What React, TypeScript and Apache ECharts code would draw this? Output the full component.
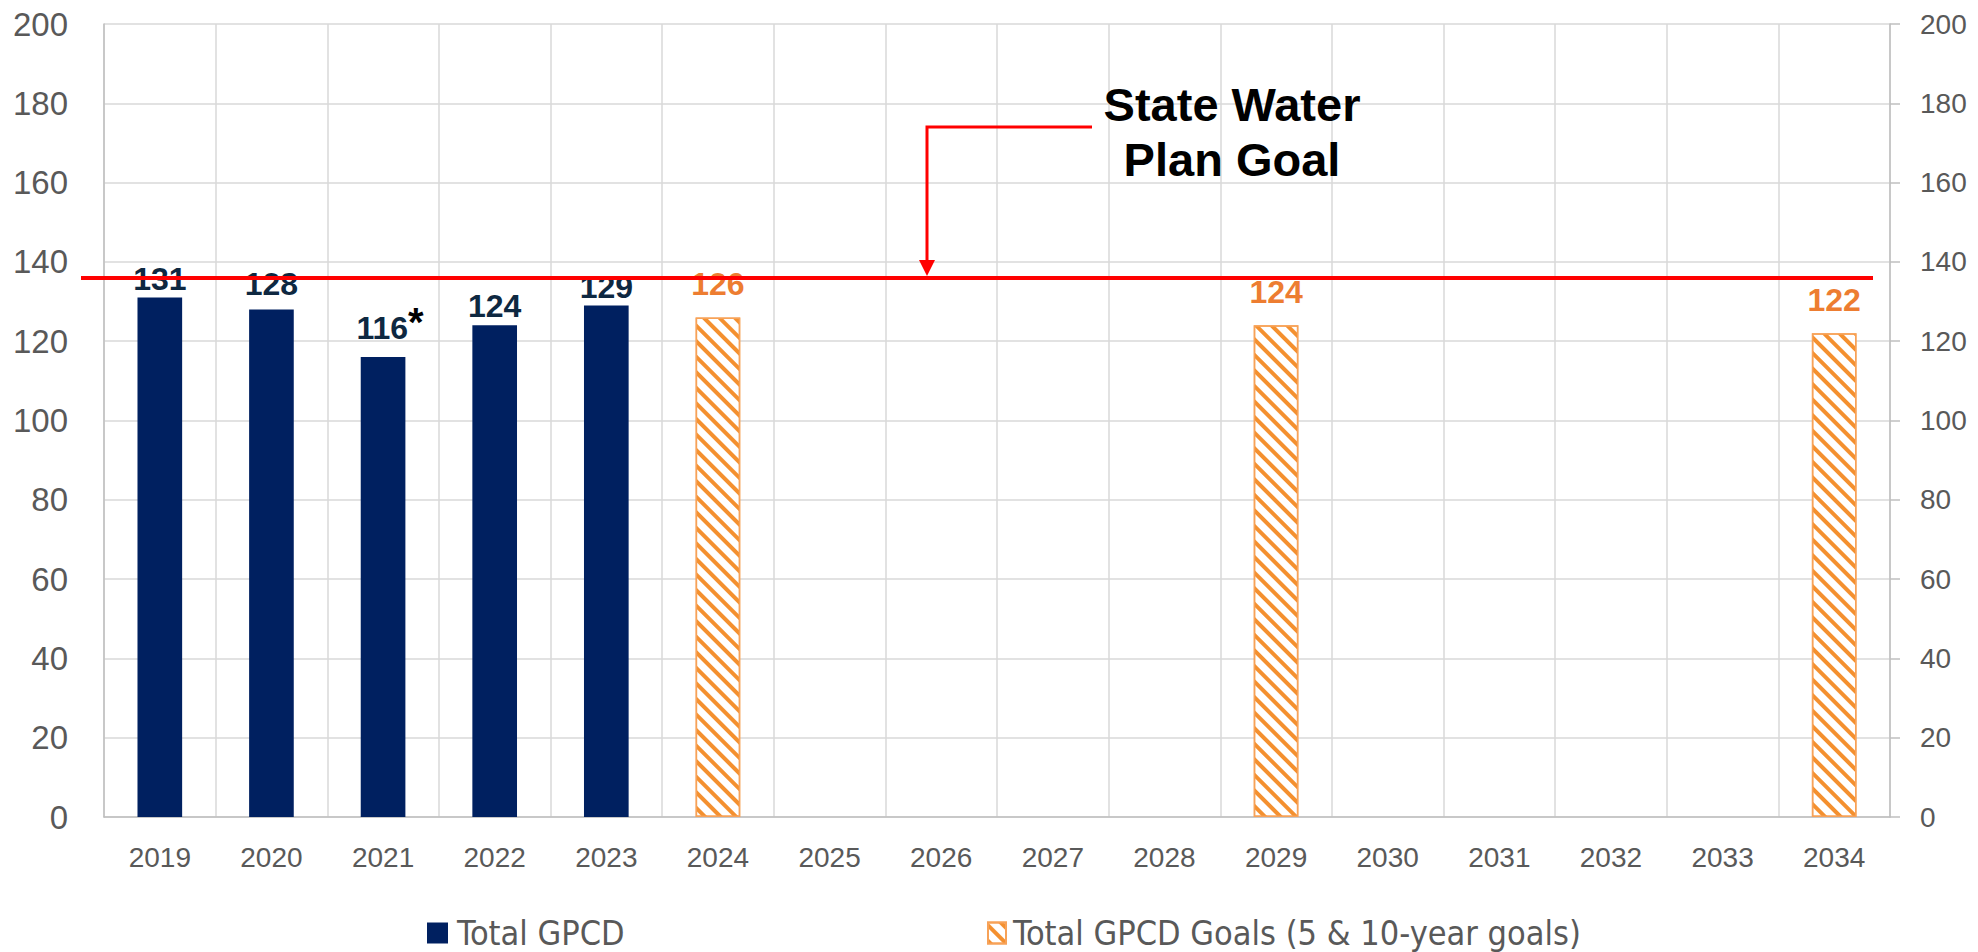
import React, { useEffect, useRef } from 'react';
import * as echarts from 'echarts';

const years = ['2019', '2020', '2021', '2022', '2023', '2024', '2025', '2026', '2027', '2028', '2029', '2030', '2031', '2032', '2033', '2034'];
const totalGpcd = [131, 128, 116, 124, 129, null, null, null, null, null, null, null, null, null, null, null];
const gpcdGoals = [null, null, null, null, null, 126, null, null, null, null, 124, null, null, null, null, 122];
const footnoteYears = ['2021'];
const stateWaterPlanGoal = 136;
const yMin = 0;
const yMax = 200;
const yInterval = 20;

const FONT = '"Liberation Sans", Arial, sans-serif';
const NARROW = '"Liberation Sans Narrow", "DejaVu Sans Condensed", "Liberation Sans", sans-serif';
const NAVY = '#002060';
const NAVY_TEXT = '#0E2841';
const ORANGE = '#F4902F';
const ORANGE_TEXT = '#ED7D31';
const GRAY_TEXT = '#595959';

export default function App() {
  const ref = useRef<HTMLDivElement>(null);

  useEffect(() => {
    if (!ref.current) return;
    const chart = echarts.init(ref.current, null, { renderer: 'svg' });

    const navyData = totalGpcd.map((v, i) => {
      if (footnoteYears.includes(years[i])) {
        return { value: v, label: { formatter: '{v|' + v + '}{s|*}', offset: [7, 0] } };
      }
      if (years[i] === '2020') {
        return { value: v, label: { offset: [0, -6] } };
      }
      return v;
    });

    const yAxisBase = {
      type: 'value' as const,
      min: yMin,
      max: yMax,
      interval: yInterval,
    };

    chart.setOption({
      animation: false,
      backgroundColor: '#ffffff',
      grid: { left: 104, right: 88, top: 24, bottom: 135, containLabel: false },
      legend: [
        {
          data: ['Total GPCD'],
          left: 422,
          top: 911,
          itemWidth: 21,
          itemHeight: 21,
          icon: 'rect',
          textStyle: { color: GRAY_TEXT, fontSize: 34, fontFamily: NARROW, padding: [0, 0, 0, 4] },
          selectedMode: false,
        },
        {
          data: ['Total GPCD Goals (5 & 10-year goals)'],
          left: 982,
          top: 911,
          itemWidth: 18,
          itemHeight: 21,
          icon: 'rect',
          textStyle: { color: GRAY_TEXT, fontSize: 34, fontFamily: NARROW, padding: [0, 0, 0, 2] },
          selectedMode: false,
        },
      ],
      xAxis: {
        type: 'category',
        data: years,
        axisLine: { show: true, lineStyle: { color: '#BFBFBF', width: 1.5 } },
        axisTick: { show: false },
        splitLine: { show: true, interval: 0, lineStyle: { color: '#D9D9D9', width: 1.5 } },
        axisLabel: { color: GRAY_TEXT, fontSize: 28, fontFamily: FONT, margin: 26, interval: 0 },
      },
      yAxis: [
        {
          ...yAxisBase,
          position: 'left',
          axisLine: { show: true, lineStyle: { color: '#BFBFBF', width: 1.5 } },
          axisTick: { show: false },
          splitLine: { show: true, lineStyle: { color: '#D9D9D9', width: 1.5 } },
          axisLabel: { color: GRAY_TEXT, fontSize: 33, fontFamily: FONT, margin: 36 },
        },
        {
          ...yAxisBase,
          position: 'right',
          axisLine: { show: true, lineStyle: { color: '#BFBFBF', width: 1.5 } },
          axisTick: { show: true, length: 10, lineStyle: { color: '#BFBFBF', width: 1.5 } },
          splitLine: { show: false },
          axisLabel: { color: GRAY_TEXT, fontSize: 28, fontFamily: FONT, margin: 30 },
        },
      ],
      series: [
        {
          name: 'Total GPCD',
          type: 'bar',
          data: navyData,
          barWidth: '40%',
          barGap: '-100%',
          itemStyle: { color: NAVY },
          label: {
            show: true,
            position: 'top',
            distance: 3,
            color: NAVY_TEXT,
            fontSize: 32,
            fontWeight: 'bold',
            fontFamily: FONT,
            rich: {
              v: { color: NAVY_TEXT, fontSize: 32, fontWeight: 'bold', fontFamily: FONT },
              s: { color: '#000000', fontSize: 40, fontWeight: 'bold', fontFamily: FONT, padding: [0, 0, 12, 0] },
            },
          },
          markLine: {
            silent: true,
            symbol: ['none', 'none'],
            label: { show: false },
            lineStyle: { color: '#FF0000', width: 4, type: 'solid' },
            data: [[{ x: 81, yAxis: stateWaterPlanGoal }, { x: 1873, yAxis: stateWaterPlanGoal }]],
          },
        },
        {
          name: 'Total GPCD Goals (5 & 10-year goals)',
          type: 'bar',
          data: gpcdGoals,
          barWidth: '40%',
          barGap: '-100%',
          itemStyle: {
            color: '#FFFFFF',
            borderColor: '#F7A258',
            borderWidth: 1.5,
            decal: {
              symbol: 'rect',
              symbolSize: 1,
              color: ORANGE,
              dashArrayX: [1, 0],
              dashArrayY: [4, 7],
              rotation: Math.PI / 4,
            },
          },
          label: {
            show: true,
            position: 'top',
            distance: 17,
            color: ORANGE_TEXT,
            fontSize: 32,
            fontWeight: 'bold',
            fontFamily: FONT,
          },
        },
      ],
      graphic: [
        {
          type: 'polyline',
          silent: true,
          shape: { points: [[1092, 127], [927, 127], [927, 262]] },
          style: { stroke: '#FF0000', lineWidth: 3, fill: null },
          z: 100,
        },
        {
          type: 'polygon',
          silent: true,
          shape: { points: [[919, 260], [935, 260], [927, 276]] },
          style: { fill: '#FF0000' },
          z: 100,
        },
        {
          type: 'text',
          silent: true,
          x: 1232,
          y: 132,
          style: {
            text: 'State Water\nPlan Goal',
            fill: '#000000',
            fontSize: 47,
            fontWeight: 'bold',
            fontFamily: FONT,
            align: 'center',
            verticalAlign: 'middle',
            lineHeight: 55,
          },
          z: 100,
        },
      ],
    });

    return () => {
      chart.dispose();
    };
  }, []);

  return (
    <div
      ref={ref}
      style={{ position: 'fixed', left: 0, top: 0, width: 1978, height: 952, background: '#fff' }}
    />
  );
}
